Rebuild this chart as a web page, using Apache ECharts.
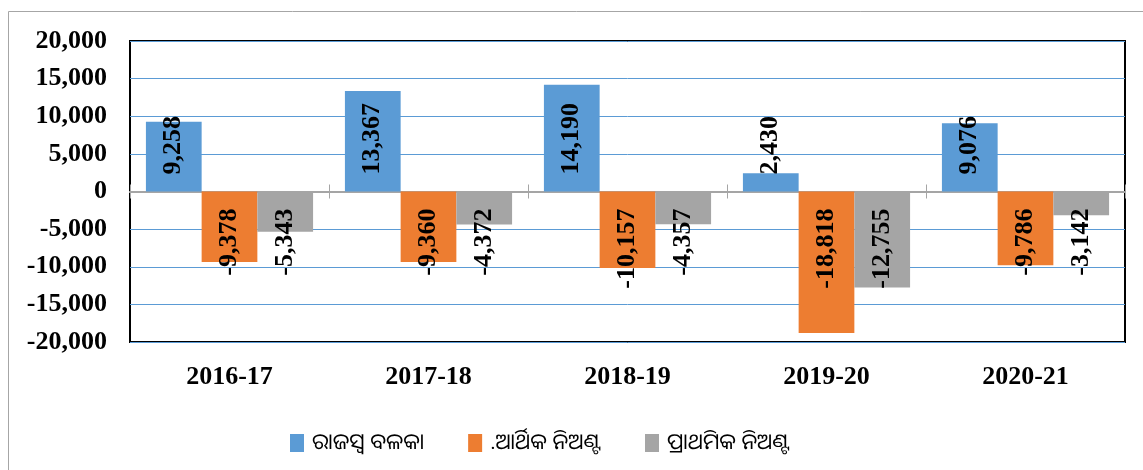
<!DOCTYPE html>
<html><head><meta charset="utf-8">
<script src="https://cdn.jsdelivr.net/npm/echarts@6/dist/echarts.min.js"></script>
<style>html,body{margin:0;padding:0;background:#fff}#c{width:1143px;height:470px}</style>
</head><body><div id="c"></div>
<script>
const categories = ['2016-17', '2017-18', '2018-19', '2019-20', '2020-21'];
const seriesNames = ['ରାଜସ୍ୱ ବଳକା', '.ଆର୍ଥିକ ନିଅଣ୍ଟ', 'ପ୍ରାଥମିକ ନିଅଣ୍ଟ'];
const revenueBalance = [9258, 13367, 14190, 2430, 9076];
const fiscalDeficit = [-9378, -9360, -10157, -18818, -9786];
const primaryDeficit = [-5343, -4372, -4357, -12755, -3142];
const yMin = -20000, yMax = 20000, yInterval = 5000;

const colors = ['#5B9BD5', '#ED7D31', '#A5A5A5'];
const serif = "'Liberation Serif', 'Times New Roman', serif";
const fmt = v => (v < 0 ? '-' : '') + Math.abs(v).toLocaleString('en-US');

function items(values, weight) {
  return values.map(v => ({
    value: v,
    label: v >= 0
      ? { position: 'insideBottom', distance: 17, rotate: 90, align: 'left', verticalAlign: 'middle', fontWeight: weight }
      : { position: 'insideTop', distance: 17, rotate: 90, align: 'right', verticalAlign: 'middle', fontWeight: weight }
  }));
}

const labelBase = { show: true, color: '#000', fontFamily: serif, fontSize: 26, formatter: p => fmt(p.value) };

const chart = echarts.init(document.getElementById('c'), null, { renderer: 'canvas' });
chart.setOption({
  animation: false,
  backgroundColor: '#fff',
  color: colors,
  graphic: [{
    type: 'rect', z: -10, silent: true,
    shape: { x: 8.5, y: 11.5, width: 1300, height: 600 },
    style: { fill: 'none', stroke: '#A6A6A6', lineWidth: 1 }
  }],
  grid: { left: 130, top: 41, width: 995, height: 301, show: true, borderColor: '#000', borderWidth: 2, backgroundColor: 'transparent' },
  legend: {
    left: 290, top: 432, padding: 0, itemWidth: 14, itemHeight: 18, itemGap: 44,
    icon: 'rect',
    textStyle: { fontFamily: "'Noto Sans Oriya', 'Noto Sans', sans-serif", fontSize: 22, color: '#000', padding: [0, 0, 0, 3] },
    data: seriesNames
  },
  xAxis: [
    { type: 'category', data: categories, position: 'bottom',
      axisLine: { show: false, onZero: false }, axisTick: { show: false },
      axisLabel: { fontFamily: serif, fontWeight: 'bold', fontSize: 26, color: '#000', margin: 22 } },
    { type: 'category', data: categories, position: 'bottom',
      axisLine: { show: true, onZero: true, onZeroAxisIndex: 0, lineStyle: { color: '#A5A5A5', width: 2 } },
      axisTick: { show: true, length: 7, lineStyle: { color: '#A5A5A5', width: 1 } },
      axisLabel: { show: false } },
    { type: 'category', data: categories, position: 'top',
      axisLine: { show: true, onZero: true, onZeroAxisIndex: 0, lineStyle: { color: '#A5A5A5', width: 2 } },
      axisTick: { show: true, length: 7, lineStyle: { color: '#A5A5A5', width: 1 } },
      axisLabel: { show: false } }
  ],
  yAxis: {
    type: 'value', min: yMin, max: yMax, interval: yInterval,
    axisLine: { show: false }, axisTick: { show: false },
    axisLabel: { fontFamily: serif, fontWeight: 'bold', fontSize: 26, color: '#000', margin: 23, formatter: v => fmt(v) },
    splitLine: { lineStyle: { color: '#5B9BD5', width: 1 } }
  },
  series: [
    { name: seriesNames[0], type: 'bar', xAxisIndex: 0, barGap: '0%', barCategoryGap: '16%', label: labelBase, data: items(revenueBalance, 'bold') },
    { name: seriesNames[1], type: 'bar', xAxisIndex: 0, barGap: '0%', barCategoryGap: '16%', label: labelBase, data: items(fiscalDeficit, 'bold') },
    { name: seriesNames[2], type: 'bar', xAxisIndex: 0, barGap: '0%', barCategoryGap: '16%', label: labelBase, data: items(primaryDeficit, 'bold') }
  ]
});
</script></body></html>
